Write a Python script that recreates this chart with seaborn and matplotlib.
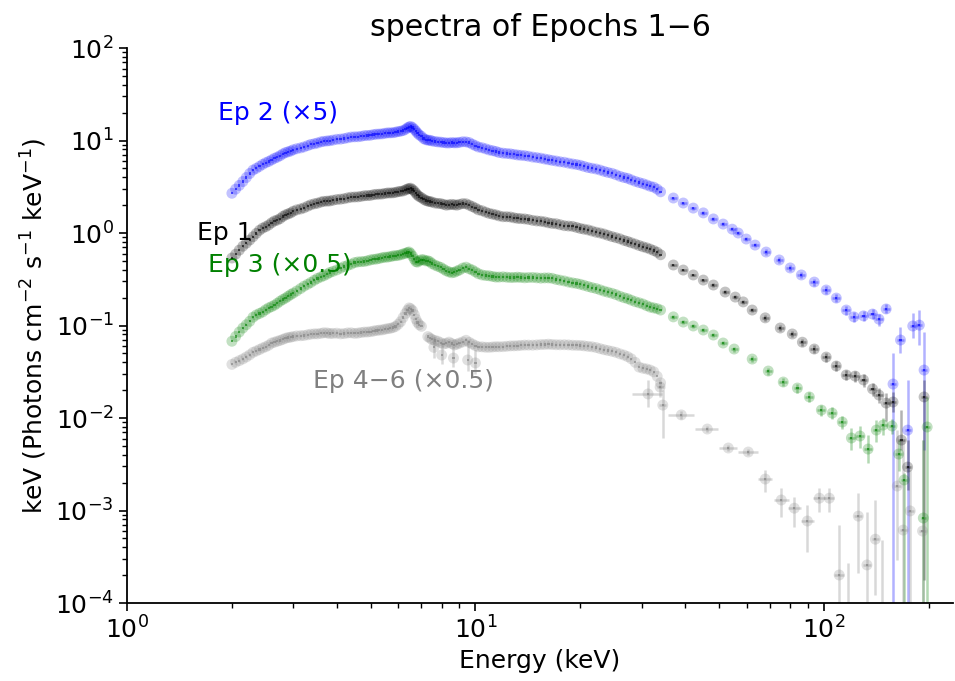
import numpy as np
import pandas as pd
import matplotlib
matplotlib.use("Agg")
import matplotlib.pyplot as plt
import seaborn as sns

# ---------------- data ----------------
energy_dense = [2.0, 2.1, 2.2, 2.3, 2.4, 2.5, 2.6, 2.7, 2.8, 2.9,
                3.0, 3.15, 3.3, 3.45, 3.6, 3.75, 3.9, 4.1, 4.3, 4.5,
                4.7, 4.9, 5.1, 5.3, 5.5, 5.7, 5.9, 6.1, 6.3, 6.45,
                6.6, 6.75, 6.9, 7.1, 7.3, 7.5, 7.8, 8.1, 8.4, 8.7,
                9.0, 9.4, 9.8, 10.2, 10.7, 11.2, 11.7, 12.3, 12.9, 13.5,
                14.2, 15.0, 15.8, 16.6, 17.5, 18.5, 19.5, 20.5, 21.6, 22.8,
                24.0, 25.3, 26.7, 28.0, 29.5, 31.0, 32.5, 34.0]

ep2_dense = [2.69, 3.27, 3.98, 4.79, 5.25, 5.75, 6.17, 6.61, 7.16, 7.55,
             7.94, 8.32, 8.81, 9.23, 9.66, 9.89, 10.1, 10.35, 10.7, 10.96,
             11.1, 11.35, 11.6, 11.75, 11.97, 12.1, 12.3, 12.6, 13.2, 14.0,
             13.8, 12.6, 11.5, 10.5, 10.1, 9.9, 9.66, 9.5, 9.4, 9.44,
             9.55, 9.66, 9.12, 8.5, 8.13, 7.76, 7.41, 7.24, 7.08, 6.92,
             6.76, 6.53, 6.31, 6.1, 5.89, 5.69, 5.5, 5.25, 5.01, 4.79,
             4.52, 4.27, 3.98, 3.76, 3.51, 3.31, 3.13, 2.79]

ep1_dense = [0.537, 0.653, 0.776, 0.912, 1.07, 1.17, 1.29, 1.38, 1.51, 1.61,
             1.72, 1.82, 1.95, 2.07, 2.16, 2.21, 2.26, 2.32, 2.40, 2.45,
             2.49, 2.54, 2.60, 2.63, 2.68, 2.71, 2.75, 2.82, 2.92, 3.02,
             2.95, 2.69, 2.48, 2.32, 2.21, 2.16, 2.09, 2.04, 2.02, 2.02,
             2.04, 2.07, 1.93, 1.78, 1.68, 1.60, 1.53, 1.50, 1.46, 1.43,
             1.40, 1.35, 1.32, 1.27, 1.23, 1.19, 1.15, 1.10, 1.05, 1.0,
             0.944, 0.891, 0.832, 0.785, 0.733, 0.692, 0.646, 0.582]

ep3_dense = [0.0676, 0.0851, 0.102, 0.123, 0.135, 0.148, 0.160, 0.174, 0.191, 0.207,
             0.224, 0.251, 0.279, 0.309, 0.335, 0.359, 0.385, 0.417, 0.447, 0.479,
             0.490, 0.501, 0.519, 0.531, 0.547, 0.556, 0.569, 0.582, 0.603, 0.624,
             0.562, 0.490, 0.501, 0.513, 0.501, 0.468, 0.437, 0.407, 0.380, 0.376,
             0.398, 0.427, 0.398, 0.363, 0.347, 0.339, 0.334, 0.333, 0.331, 0.331,
             0.330, 0.328, 0.327, 0.324, 0.309, 0.295, 0.285, 0.272, 0.257, 0.243,
             0.229, 0.216, 0.200, 0.188, 0.176, 0.164, 0.155, 0.147]

ep46_dense = [0.038, 0.0417, 0.0457, 0.0513, 0.055, 0.0589, 0.0646, 0.0676, 0.0708, 0.0741,
              0.0759, 0.0776, 0.0794, 0.0813, 0.0822, 0.0832, 0.0822, 0.0813, 0.0832, 0.0822,
              0.0841, 0.0851, 0.0871, 0.0891, 0.0912, 0.0933, 0.0977, 0.110, 0.135, 0.155,
              0.145, 0.117, 0.102, np.nan, 0.0759, 0.0708, 0.0676, 0.0631, 0.0661, 0.0617,
              0.0646, 0.0692, 0.0631, 0.0589, 0.0582, 0.0586, 0.0589, 0.0596, 0.0603, 0.0610,
              0.0614, 0.0617, 0.0624, 0.0624, 0.0619, 0.0617, 0.0610, 0.0603, 0.0589, 0.0562,
              0.0537, 0.0513, 0.0479, 0.0437, 0.0355, 0.0339, 0.0316, 0.024]

# second, interleaved set of fine-binned channels
energy_mid = [2.05, 2.15, 2.25, 2.35, 2.45, 2.55, 2.65, 2.75, 2.85, 2.95,
              3.07, 3.22, 3.37, 3.52, 3.67, 3.82, 4.0, 4.2, 4.4, 4.6,
              4.8, 5.0, 5.2, 5.4, 5.6, 5.8, 6.0, 6.2, 6.38, 6.52,
              6.68, 6.82, 7.0, 7.2, 7.4, 7.65, 7.95, 8.25, 8.55, 8.85,
              9.2, 9.6, 10.0, 10.45, 10.95, 11.45, 12.0, 12.6, 13.2, 13.85,
              14.6, 15.4, 16.2, 17.05, 18.0, 19.0, 20.0, 21.05, 22.2, 23.4,
              24.65, 26.0, 27.35, 28.75, 30.25, 31.75, 33.25]

ep2_mid = [2.98, 3.6, 4.4, 5.0, 5.52, 5.93, 6.42, 6.85, 7.40, 7.70,
           8.15, 8.52, 9.08, 9.40, 9.80, 9.95, 10.3, 10.5, 10.9, 10.98,
           11.3, 11.4, 11.7, 11.8, 12.1, 12.15, 12.5, 12.8, 13.7, 14.2,
           13.2, 12.0, 11.1, 10.2, 10.05, 9.75, 9.6, 9.42, 9.5, 9.45,
           9.7, 9.5, 8.8, 8.35, 7.9, 7.62, 7.3, 7.18, 6.98, 6.86,
           6.62, 6.44, 6.2, 6.0, 5.82, 5.58, 5.4, 5.1, 4.92, 4.64,
           4.42, 4.1, 3.90, 3.62, 3.42, 3.2, 2.98]

ep1_mid = [0.59, 0.72, 0.84, 0.99, 1.13, 1.22, 1.35, 1.43, 1.57, 1.65,
           1.78, 1.87, 2.02, 2.10, 2.2, 2.22, 2.30, 2.35, 2.44, 2.46,
           2.53, 2.55, 2.62, 2.64, 2.71, 2.72, 2.80, 2.85, 2.99, 3.05,
           2.83, 2.57, 2.41, 2.25, 2.19, 2.11, 2.08, 2.0, 2.04, 2.0,
           2.08, 2.0, 1.86, 1.74, 1.63, 1.57, 1.50, 1.49, 1.44, 1.42,
           1.37, 1.34, 1.29, 1.26, 1.20, 1.18, 1.12, 1.08, 1.02, 0.975,
           0.915, 0.865, 0.81, 0.76, 0.71, 0.67, 0.62]

ep3_mid = [0.076, 0.094, 0.111, 0.130, 0.140, 0.155, 0.166, 0.183, 0.198, 0.216,
           0.236, 0.266, 0.292, 0.323, 0.345, 0.374, 0.399, 0.434, 0.46, 0.487,
           0.493, 0.512, 0.523, 0.541, 0.549, 0.565, 0.573, 0.594, 0.615, 0.60,
           0.52, 0.485, 0.515, 0.50, 0.49, 0.45, 0.425, 0.39, 0.372, 0.388,
           0.418, 0.41, 0.38, 0.352, 0.345, 0.334, 0.336, 0.330, 0.333, 0.328,
           0.331, 0.325, 0.327, 0.315, 0.303, 0.289, 0.279, 0.264, 0.251, 0.235,
           0.223, 0.207, 0.195, 0.181, 0.171, 0.158, 0.152]

ep46_mid = [0.040, 0.0435, 0.0482, 0.053, 0.0572, 0.0612, 0.066, 0.069, 0.0728, 0.0748,
            0.0772, 0.078, 0.0806, 0.0812, 0.0835, 0.0819, 0.0826, 0.0818, 0.0834, 0.0828,
            0.0849, 0.0858, 0.0884, 0.0897, 0.0925, 0.095, 0.103, 0.122, 0.146, 0.152,
            0.131, 0.108, 0.098, np.nan, 0.0732, 0.069, 0.0652, 0.0642, 0.0638, 0.0629,
            0.0665, 0.0658, 0.0606, 0.0588, 0.0581, 0.0590, 0.0591, 0.0602, 0.0605, 0.0614,
            0.0613, 0.0622, 0.0628, 0.0620, 0.0620, 0.0612, 0.0608, 0.0595, 0.0578, 0.0548,
            0.0526, 0.0494, 0.0461, 0.040, 0.0345, 0.0330, 0.0282]

# noisy Ep 4-6 points around the iron line
ep46_fe_e = [7.6, 8.0, 8.65, 9.5, 10.0]
ep46_fe_f = [0.058, 0.048, 0.0445, 0.0424, 0.0394]
ep46_fe_lo = [0.045, 0.038, 0.036, 0.032, 0.030]
ep46_fe_hi = [0.075, 0.065, 0.060, 0.070, 0.055]

# high-energy (binned) parts with error bars
ep2_tail_e = [37.0, 39.5, 42.2, 45.1, 48.2, 51.4, 54.6, 56.8, 59.9, 63.5,
              68.3, 74.5, 80.1, 86.2, 93.9, 101.6, 108.6, 116, 122, 130,
              138, 144, 151, 158, 166, 174, 180, 188, 194]
ep2_tail_f = [2.39, 2.11, 1.86, 1.65, 1.42, 1.25, 1.10, 1.0, 0.861, 0.741,
              0.623, 0.511, 0.419, 0.352, 0.295, 0.242, 0.198, 0.147, 0.124, 0.127,
              0.133, 0.117, 0.151, 0.0233, 0.0697, 0.0074, 0.0988, 0.101, 0.033]
ep2_tail_lo = [2.30, 2.03, 1.79, 1.58, 1.36, 1.19, 1.04, 0.95, 0.81, 0.70,
               0.58, 0.475, 0.39, 0.325, 0.27, 0.22, 0.178, 0.131, 0.11, 0.112,
               0.117, 0.10, 0.135, 1e-5, 0.0504, 1e-5, 0.0733, 0.0616, 0.0045]
ep2_tail_hi = [2.48, 2.19, 1.93, 1.72, 1.48, 1.31, 1.16, 1.05, 0.91, 0.78,
               0.67, 0.55, 0.45, 0.38, 0.32, 0.265, 0.218, 0.164, 0.139, 0.143,
               0.150, 0.134, 0.17, 0.0504, 0.0964, 0.0258, 0.136, 0.147, 0.0851]
ep2_tail_xerr = [0.8, 0.9, 0.9, 1.0, 1.1, 1.2, 1.2, 1.2, 1.3, 1.5,
                 1.6, 1.8, 2.0, 2.2, 2.4, 2.6, 2.8, 3.0, 3.0, 3.2,
                 3.4, 3.4, 3.5, 3.5, 3.5, 3.5, 3.5, 3.5, 3.5]

ep1_tail_e = [37.0, 39.5, 42.2, 45.1, 48.2, 52.1, 55.7, 58.7, 62.3, 67.9,
              75.0, 81.2, 86.8, 93.9, 101.6, 108.6, 116, 123, 130, 138,
              144, 151, 158, 167, 174, 194]
ep1_tail_f = [0.451, 0.398, 0.352, 0.310, 0.274, 0.230, 0.203, 0.180, 0.147, 0.121,
              0.094, 0.081, 0.066, 0.0557, 0.0456, 0.0365, 0.0292, 0.0284, 0.0258, 0.0206,
              0.0177, 0.0145, 0.0149, 0.00578, 0.00295, 0.0169]
ep1_tail_lo = [0.435, 0.384, 0.339, 0.298, 0.263, 0.22, 0.193, 0.171, 0.139, 0.113,
               0.087, 0.075, 0.060, 0.050, 0.040, 0.032, 0.0255, 0.0245, 0.0215, 0.0175,
               0.0146, 0.0094, 0.0115, 0.0045, 0.00168, 0.000178]
ep1_tail_hi = [0.467, 0.412, 0.365, 0.322, 0.285, 0.24, 0.213, 0.189, 0.155, 0.129,
               0.101, 0.087, 0.072, 0.061, 0.051, 0.041, 0.033, 0.032, 0.030, 0.024,
               0.021, 0.0185, 0.019, 0.0122, 0.00578, 0.0258]
ep1_tail_xerr = [0.8, 0.9, 0.9, 1.0, 1.1, 1.2, 1.2, 1.3, 1.5, 1.6,
                 1.8, 2.0, 2.2, 2.4, 2.6, 2.8, 3.0, 3.0, 3.2, 3.4,
                 3.4, 3.5, 3.5, 3.5, 3.5, 3.5]

ep3_tail_e = [37.0, 39.5, 42.2, 45.1, 48.2, 51.4, 55.3, 62.3, 69.3, 76.5,
              84.0, 90.9, 98.4, 105.7, 113, 120, 127, 134, 141.5, 148,
              157, 164, 170, 193, 198]
ep3_tail_f = [0.124, 0.109, 0.0988, 0.0894, 0.0789, 0.0647, 0.0557, 0.0434, 0.0322, 0.0245,
              0.0211, 0.0169, 0.0122, 0.0113, 0.00905, 0.00608, 0.00639, 0.00462, 0.00741, 0.00839,
              0.00820, 0.00408, 0.00214, 0.00083, 0.0080]
ep3_tail_lo = [0.118, 0.104, 0.094, 0.085, 0.075, 0.061, 0.052, 0.040, 0.029, 0.022,
               0.0188, 0.0148, 0.0105, 0.0097, 0.0077, 0.0045, 0.0047, 0.00327, 0.0055, 0.0065,
               0.0068, 0.0027, 1e-5, 1e-5, 1e-5]
ep3_tail_hi = [0.130, 0.114, 0.104, 0.094, 0.083, 0.068, 0.059, 0.047, 0.035, 0.027,
               0.0235, 0.019, 0.014, 0.013, 0.0105, 0.0078, 0.0083, 0.00655, 0.0095, 0.0100,
               0.0097, 0.0058, 0.00257, 0.00578, 0.0169]
ep3_tail_xerr = [0.8, 0.9, 0.9, 1.0, 1.1, 1.2, 1.3, 1.5, 1.7, 1.9,
                 2.1, 2.3, 2.5, 2.7, 3.0, 3.0, 3.2, 3.4, 3.4, 3.5,
                 3.5, 3.5, 3.5, 3.5, 3.5]

ep46_tail_e = [31.3, 33.9, 34.5, 39.0, 46.3, 53.2, 60.7, 67.9, 75.5, 82.3,
               89.7, 97.1, 103.7, 110.7, 117, 125.6, 133, 140.6, 147, 162.5,
               169, 177, 192]
ep46_tail_f = [0.0182, 0.0216, 0.0138, 0.0108, 0.0076, 0.00474, 0.00429, 0.00219, 0.0013, 0.00106,
               0.00077, 0.00136, 0.00136, 0.000201, 6e-5, 0.00087, 0.000258, 0.00049, 6e-5, 0.00184,
               0.000615, 0.00099, 0.0006]
ep46_tail_lo = [0.0131, 0.017, 0.00608, 0.0098, 0.0070, 0.0044, 0.0040, 0.00158, 0.00085, 0.00066,
                0.000356, 0.00096, 0.00096, 1e-5, 1e-5, 0.00021, 1e-5, 0.000123, 1e-5, 0.00029,
                1e-5, 1e-5, 1e-5]
ep46_tail_hi = [0.0258, 0.026, 0.0201, 0.0119, 0.0083, 0.0051, 0.0046, 0.00274, 0.00175, 0.0014,
                0.00115, 0.00175, 0.00175, 0.0007, 0.00027, 0.00155, 0.00096, 0.0013, 0.00048, 0.0074,
                0.00578, 0.00274, 0.00578]
ep46_tail_xerr = [3.1, 0.8, 0.8, 3.4, 3.5, 3.3, 3.9, 3.0, 3.7, 3.6,
                  3.8, 3.8, 3.3, 3.5, 3.5, 3.5, 3.5, 3.5, 3.5, 4, 4, 4, 4]

series_names = ["Ep 2", "Ep 1", "Ep 3", "Ep 4-6"]
series_colors = {"Ep 2": "blue", "Ep 1": "black", "Ep 3": "green", "Ep 4-6": "gray"}
labels = [("Ep 2 (×5)", 1.83, 19.8, "blue"),
          ("Ep 1", 1.59, 1.0, "black"),
          ("Ep 3 (×0.5)", 1.71, 0.451, "green"),
          ("Ep 4−6 (×0.5)", 3.42, 0.0251, "gray")]

# ---------------- figure ----------------
sns.set_style("ticks")
plt.rcParams["font.family"] = ["DejaVu Sans"]
plt.rcParams["font.size"] = 18
plt.rcParams["mathtext.fontset"] = "dejavusans"
for key in ["text.color", "axes.labelcolor", "xtick.color", "ytick.color", "axes.edgecolor"]:
    plt.rcParams[key] = "black"

fig = plt.figure(figsize=(9.55, 6.81), dpi=100)
ax = fig.add_axes([0.133, 0.1145, 0.865, 0.815])

dense = {"Ep 2": ep2_dense, "Ep 1": ep1_dense, "Ep 3": ep3_dense, "Ep 4-6": ep46_dense}
mid = {"Ep 2": ep2_mid, "Ep 1": ep1_mid, "Ep 3": ep3_mid, "Ep 4-6": ep46_mid}
tails = {
    "Ep 2": (ep2_tail_e, ep2_tail_f, ep2_tail_lo, ep2_tail_hi, ep2_tail_xerr),
    "Ep 1": (ep1_tail_e, ep1_tail_f, ep1_tail_lo, ep1_tail_hi, ep1_tail_xerr),
    "Ep 3": (ep3_tail_e, ep3_tail_f, ep3_tail_lo, ep3_tail_hi, ep3_tail_xerr),
    "Ep 4-6": (ep46_tail_e, ep46_tail_f, ep46_tail_lo, ep46_tail_hi, ep46_tail_xerr),
}

rows = []
for name in series_names:
    for e, f in zip(energy_dense, dense[name]):
        rows.append((name, e, f))
    for e, f in zip(energy_mid, mid[name]):
        rows.append((name, e, f))
    te, tf = tails[name][0], tails[name][1]
    for e, f in zip(te, tf):
        rows.append((name, e, f))
for e, f in zip(ep46_fe_e, ep46_fe_f):
    rows.append(("Ep 4-6", e, f))
df = pd.DataFrame(rows, columns=["series", "E", "F"]).dropna()

ax.set_xscale("log")
ax.set_yscale("log")

# error bars
for name in series_names:
    te, tf, tlo, thi, txe = [np.asarray(v, dtype=float) for v in tails[name]]
    yerr = np.clip(np.vstack([tf - tlo, thi - tf]), 0, None)
    ax.errorbar(te, tf, xerr=txe, yerr=yerr, fmt="none", ecolor=series_colors[name],
                elinewidth=1.8, alpha=0.3, zorder=2)
fe = np.asarray(ep46_fe_f)
ax.errorbar(ep46_fe_e, fe, yerr=np.vstack([fe - np.asarray(ep46_fe_lo), np.asarray(ep46_fe_hi) - fe]),
            fmt="none", ecolor="gray", elinewidth=1.8, alpha=0.3, zorder=2)

# markers
sns.scatterplot(data=df, x="E", y="F", hue="series", palette=series_colors,
                hue_order=series_names, s=62, alpha=0.24, linewidth=0,
                legend=False, ax=ax, zorder=3)
sns.scatterplot(data=df, x="E", y="F", hue="series", palette=series_colors,
                hue_order=series_names, s=2.5, alpha=0.6, linewidth=0, marker="s",
                legend=False, ax=ax, zorder=4)

for txt, x, y, c in labels:
    ax.text(x, y, txt, color=c, fontsize=18, ha="left", va="center")

ax.set_xlim(1, 235)
ax.set_ylim(1e-4, 1e2)
ax.set_xlabel("Energy (keV)")
ax.set_ylabel(r"keV (Photons cm$^{-2}$ s$^{-1}$ keV$^{-1}$)")
ax.set_title("spectra of Epochs 1−6", fontsize=21.6, pad=9)
ax.tick_params(which="major", length=6, width=1.2, direction="out")
ax.tick_params(which="minor", length=3.5, width=1.0, direction="out")
for s in ax.spines.values():
    s.set_linewidth(1.3)
sns.despine(ax=ax)

fig.savefig("out.png", dpi=100)
